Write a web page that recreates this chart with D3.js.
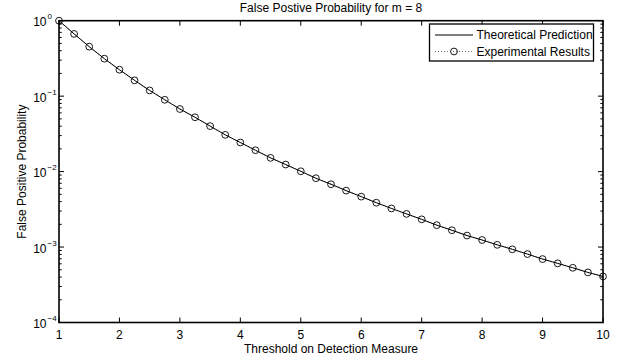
<!DOCTYPE html>
<html>
<head>
<meta charset="utf-8">
<script src="https://cdn.jsdelivr.net/npm/d3@7"></script>
<style>
  body { margin: 0; background: #fff; }
  svg { display: block; font-family: "Liberation Sans", Arial, Helvetica, sans-serif; }
</style>
</head>
<body>
<div id="chart"></div>
<script>
// threshold values on the x axis
const thresholds = [1, 1.25, 1.5, 1.75, 2, 2.25, 2.5, 2.75, 3, 3.25, 3.5, 3.75, 4, 4.25, 4.5, 4.75,
  5, 5.25, 5.5, 5.75, 6, 6.25, 6.5, 6.75, 7, 7.25, 7.5, 7.75, 8, 8.25, 8.5, 8.75, 9, 9.25, 9.5, 9.75, 10];

const theoretical = [1, 0.668, 0.453, 0.314, 0.224, 0.162, 0.119, 0.0895, 0.0675, 0.0525, 0.0401, 0.0307,
  0.0243, 0.0192, 0.0152, 0.0124, 0.0101, 0.00817, 0.0068, 0.0056, 0.00466, 0.00387, 0.00325, 0.00275,
  0.00233, 0.00195, 0.00167, 0.00142, 0.00124, 0.00107, 0.000933, 0.000807, 0.000693, 0.000608,
  0.000531, 0.000461, 0.000408];

const experimental = [1, 0.668, 0.453, 0.314, 0.224, 0.162, 0.119, 0.0895, 0.0675, 0.0525, 0.0401, 0.0307,
  0.0243, 0.0192, 0.0152, 0.0124, 0.0101, 0.00817, 0.0068, 0.0056, 0.00466, 0.00387, 0.00325, 0.00275,
  0.00233, 0.00195, 0.00167, 0.00142, 0.00124, 0.00107, 0.000933, 0.000807, 0.000693, 0.000608,
  0.000531, 0.000461, 0.000408];

const xTicks = [1, 2, 3, 4, 5, 6, 7, 8, 9, 10];
const yExponents = [0, -1, -2, -3, -4];
const legendLabels = ['Theoretical Prediction', 'Experimental Results'];

const width = 632, height = 363;
const plotL = 59, plotR = 603, plotT = 20.7, plotB = 322.5;

const svg = d3.select('#chart').append('svg')
  .attr('width', width)
  .attr('height', height);

const x = d3.scaleLinear().domain([1, 10]).range([plotL, plotR]);
const y = d3.scaleLog().domain([1e-4, 1]).range([plotB, plotT]);

// minor log ticks (2..9 per decade)
const minor = [];
yExponents.slice(0, -1).forEach(e => {
  for (let k = 2; k <= 9; k++) minor.push(k * Math.pow(10, e - 1));
});

const axes = svg.append('g').attr('stroke', '#000').attr('stroke-width', 1);

// x ticks bottom and top, pointing inward
xTicks.forEach(v => {
  axes.append('line').attr('x1', x(v)).attr('x2', x(v)).attr('y1', plotB).attr('y2', plotB - 5);
  axes.append('line').attr('x1', x(v)).attr('x2', x(v)).attr('y1', plotT).attr('y2', plotT + 5);
});
// y major ticks
yExponents.forEach(e => {
  const yy = y(Math.pow(10, e));
  axes.append('line').attr('x1', plotL).attr('x2', plotL + 5).attr('y1', yy).attr('y2', yy);
  axes.append('line').attr('x1', plotR).attr('x2', plotR - 5).attr('y1', yy).attr('y2', yy);
});
// y minor ticks
minor.forEach(v => {
  const yy = y(v);
  axes.append('line').attr('x1', plotL).attr('x2', plotL + 2.7).attr('y1', yy).attr('y2', yy);
  axes.append('line').attr('x1', plotR).attr('x2', plotR - 2.7).attr('y1', yy).attr('y2', yy);
});

// data lines
const line = d3.line().x(d => x(d[0])).y(d => y(d[1]));
const theoData = thresholds.map((t, i) => [t, theoretical[i]]);
const expData = thresholds.map((t, i) => [t, experimental[i]]);

svg.append('path')
  .attr('d', line(theoData))
  .attr('fill', 'none')
  .attr('stroke', '#000')
  .attr('stroke-width', 1);

svg.append('path')
  .attr('d', line(expData))
  .attr('fill', 'none')
  .attr('stroke', '#000')
  .attr('stroke-width', 0.6)
  .attr('stroke-dasharray', '1,2');

svg.append('g').selectAll('circle')
  .data(expData)
  .enter()
  .append('circle')
  .attr('cx', d => x(d[0]))
  .attr('cy', d => y(d[1]))
  .attr('r', 3.4)
  .attr('fill', 'none')
  .attr('stroke', '#000')
  .attr('stroke-width', 0.9);

// axes box
svg.append('rect')
  .attr('x', plotL).attr('y', plotT)
  .attr('width', plotR - plotL).attr('height', plotB - plotT)
  .attr('fill', 'none')
  .attr('stroke', '#000')
  .attr('stroke-width', 1.6);

// x tick labels
svg.append('g').selectAll('text')
  .data(xTicks)
  .enter()
  .append('text')
  .attr('x', d => x(d))
  .attr('y', 338.5)
  .attr('text-anchor', 'middle')
  .style('font-size', '12px')
  .text(d => d);

// y tick labels 10^e
yExponents.forEach(e => {
  svg.append('text')
    .attr('x', 46.5)
    .attr('y', y(Math.pow(10, e)) + 5.6)
    .attr('text-anchor', 'end')
    .style('font-size', '12px')
    .text('10');
  svg.append('text')
    .attr('x', 47.5)
    .attr('y', y(Math.pow(10, e)) - 1.5)
    .style('font-size', '8px')
    .text(e === 0 ? '0' : '\u2212' + (-e));
});

// title and axis labels
svg.append('text')
  .attr('x', (plotL + plotR) / 2)
  .attr('y', 11.5)
  .attr('text-anchor', 'middle')
  .style('font-size', '12px')
  .text('False Postive Probability for m = 8');

svg.append('text')
  .attr('x', (plotL + plotR) / 2)
  .attr('y', 352.5)
  .attr('text-anchor', 'middle')
  .style('font-size', '12px')
  .text('Threshold on Detection Measure');

svg.append('text')
  .attr('transform', `translate(25.5, ${(plotT + plotB) / 2}) rotate(-90)`)
  .attr('text-anchor', 'middle')
  .style('font-size', '12px')
  .text('False Positive Probability');

// legend
const lg = svg.append('g');
lg.append('rect')
  .attr('x', 429.5).attr('y', 24)
  .attr('width', 164).attr('height', 37)
  .attr('fill', '#fff')
  .attr('stroke', '#000')
  .attr('stroke-width', 1.3);

lg.append('line')
  .attr('x1', 435).attr('x2', 473).attr('y1', 35).attr('y2', 35)
  .attr('stroke', '#000').attr('stroke-width', 1);
lg.append('line')
  .attr('x1', 435).attr('x2', 473).attr('y1', 51.5).attr('y2', 51.5)
  .attr('stroke', '#000').attr('stroke-width', 0.6).attr('stroke-dasharray', '1,2');
lg.append('circle')
  .attr('cx', 454).attr('cy', 51.5).attr('r', 3.4)
  .attr('fill', 'none').attr('stroke', '#000').attr('stroke-width', 0.9);

lg.selectAll('text.lbl')
  .data(legendLabels)
  .enter()
  .append('text')
  .attr('x', 476.5)
  .attr('y', (d, i) => 39.3 + i * 16.5)
  .style('font-size', '12px')
  .text(d => d);
</script>
</body>
</html>
